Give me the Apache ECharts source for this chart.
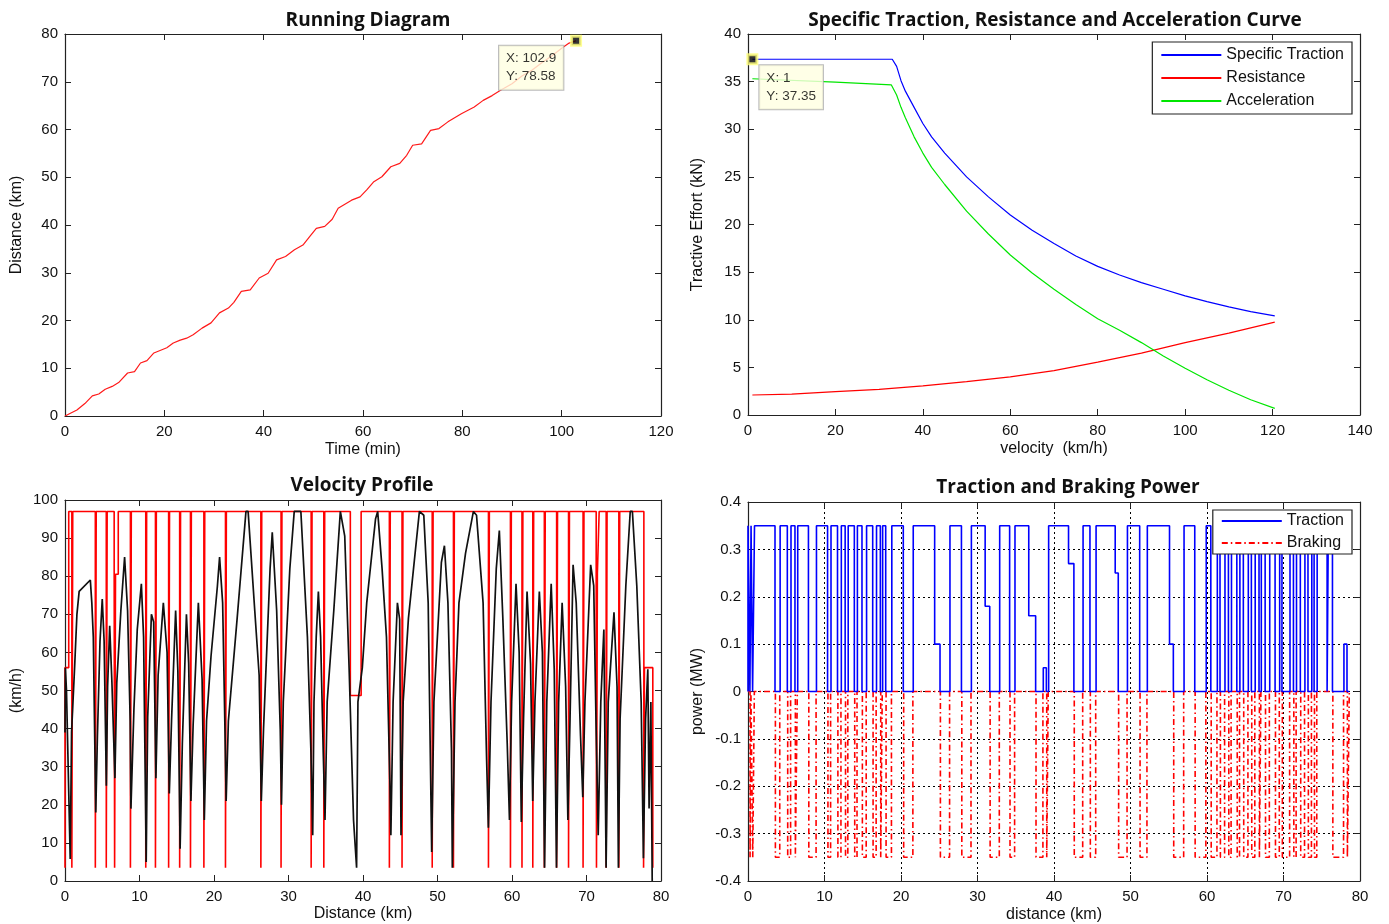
<!DOCTYPE html>
<html><head><meta charset="utf-8">
<script src="https://cdn.jsdelivr.net/npm/echarts@6/dist/echarts.min.js"></script>
<style>html,body{margin:0;padding:0;background:#fff}#c{width:1389px;height:924px}</style>
</head><body><div id="c"></div><script>
// ---------- data ----------
const runningDiagram = [[0,0],[2.4,1.25],[4,2.6],[5.5,4.2],[6.8,4.6],[8.1,5.6],[9.5,6.2],[10.8,7.0],[12.6,9.0],[14,9.3],[15.2,11.1],[16.5,11.6],[17.9,13.2],[20.5,14.3],[21.8,15.3],[23.2,15.9],[24.5,16.3],[25.8,17.0],[27.6,18.4],[29.4,19.5],[31.1,21.6],[32.9,22.6],[34,23.8],[35.5,26.1],[37.3,26.4],[39.1,28.9],[40.9,29.9],[42.6,32.7],[44.4,33.4],[46.2,34.8],[47.9,35.8],[49.3,37.6],[50.6,39.3],[52.3,39.7],[53.8,41.2],[55,43.5],[57.7,45.2],[59.4,45.9],[60.8,47.4],[62.1,49],[63.8,50.1],[65.6,52.2],[67.4,52.9],[68.8,54.6],[70,56.7],[71.8,57],[73.6,59.8],[75.3,60.2],[77.1,61.6],[79.8,63.3],[82.4,64.7],[84.2,66.1],[86,67.1],[87.7,68.2],[90,69.6],[92,71.2],[94,72.4],[96,74],[98,75.4],[100,77],[101.5,78.1],[102.9,78.58]];
const runTip = [102.9, 78.58];

const specificTraction = [[1,37.35],[33,37.35],[34,36.6],[35,35.1],[36,34.0],[38,32.3],[40,30.6],[42,29.2],[45,27.5],[50,25.0],[55,22.9],[60,21.0],[65,19.4],[70,18.0],[75,16.7],[80,15.6],[85,14.7],[90,13.9],[95,13.2],[100,12.5],[105,11.9],[110,11.35],[115,10.85],[120.5,10.4]];
const resistance = [[1,2.1],[10,2.2],[20,2.45],[30,2.7],[40,3.05],[50,3.5],[60,4.0],[70,4.65],[80,5.55],[90,6.5],[100,7.6],[110,8.6],[120.5,9.75]];
const acceleration = [[1,35.3],[20,34.95],[32.8,34.65],[34,33.6],[35,32.3],[36,31.2],[38,29.2],[40,27.5],[42,26.0],[45,24.2],[50,21.4],[55,19.0],[60,16.8],[65,14.9],[70,13.2],[75,11.6],[80,10.1],[85,8.9],[90,7.6],[95,6.2],[100,4.9],[105,3.7],[110,2.6],[115,1.6],[120.5,0.7]];
const tractionTip = [1, 37.35];

const velocityProfile = [[0,39],[0.05,56],[0.2,50],[0.7,5.8],[0.88,39],[1.3,56.5],[1.6,70],[1.9,76],[3.4,79],[3.6,73],[3.8,64],[4.13,18],[4.35,38],[4.7,63],[5.0,74],[5.25,63],[5.55,25],[5.72,51],[6.0,67],[6.3,52],[6.7,27],[6.95,52],[7.5,71],[8.0,85],[8.4,71],[8.75,42],[8.85,19],[9.25,45],[9.7,66],[10.25,78],[10.55,64],[10.9,5],[11.1,43],[11.6,70],[11.9,68],[12.2,27],[12.5,54],[13.2,73],[13.7,60],[14.0,23],[14.3,42],[14.85,71],[15.15,55],[15.45,8.5],[15.75,36],[16.3,70],[16.6,57],[16.9,21],[17.2,41],[17.9,73],[18.4,53],[18.7,16],[19.0,42],[19.6,59],[20.46,77.5],[20.75,85],[21.16,73],[21.46,41],[21.63,21],[21.93,42],[23.11,69],[24.29,97],[24.58,97],[25.47,71],[26.06,54],[26.35,21],[26.65,40],[27.53,82],[27.82,91.5],[28.41,71],[28.89,40],[29.06,20],[29.3,47],[30.18,82],[30.77,97],[31.66,97],[32.54,64],[33.01,34],[33.25,12],[33.42,47],[33.72,64],[34.01,76],[34.31,64],[34.66,34],[34.9,16],[35.19,47],[36.08,71],[36.96,97],[37.55,90.5],[38.14,55.6],[38.73,16],[39.14,3.5],[39.32,47],[39.91,56],[40.5,73],[41.68,95],[41.97,97],[42.56,82],[43.15,64],[43.62,25],[43.74,12],[44.04,47],[44.62,73],[44.92,68.7],[45.1,12],[45.39,47],[46.1,69],[47.57,97],[48.16,96],[48.75,73],[49.22,7.6],[49.52,47],[50.52,83.6],[50.93,88],[51.4,73],[51.88,34],[51.99,3.5],[52.35,47],[52.88,73],[53.76,86],[54.82,97],[55.24,96],[56.12,73],[56.59,32],[56.83,14],[57.18,47],[57.89,82],[58.3,92],[58.77,69],[59.36,36],[59.66,16],[59.95,47],[60.54,78],[60.96,60],[61.25,15.5],[61.55,42.5],[62.02,76],[62.49,57],[62.78,21],[63.08,47],[63.67,76],[64.08,60],[64.37,3.5],[64.67,47],[65.26,78],[65.67,55.6],[65.97,3.5],[66.26,47],[66.73,73],[67.2,51],[67.5,16],[67.79,42.5],[68.2,83],[68.62,73],[69.2,38],[69.5,22],[69.79,47],[70.56,83],[70.97,77.5],[71.27,42.5],[71.57,12],[71.92,47],[72.33,66],[72.63,3.5],[72.92,47],[73.69,70.5],[74.1,51],[74.28,3.5],[74.51,42.5],[75.28,77.5],[75.87,97],[76.16,97],[76.75,77.5],[77.34,47],[77.64,6],[77.93,42.5],[78.23,55.6],[78.4,19],[78.64,47],[78.82,0]];
// speed limit: [from km, to km, km/h], plus stop notches (km) where the limit drops to notchFloor
const limitSegments = [[0,0.5,56],[0.5,6.6,97],[6.6,7.15,80.5],[7.15,38.3,97],[38.3,39.75,48.7],[39.75,71.3,97],[71.3,71.7,80.7],[71.7,77.7,97],[77.7,78.9,56]];
const limitNotches = [0.98,4.13,5.6,6.72,8.84,10.9,12.2,13.97,15.45,16.9,18.7,21.6,26.35,29.06,33.1,34.8,43.6,45.3,49.35,52.2,56.9,59.85,61.4,62.85,64.4,66.05,67.65,69.6,71.4,72.7,74.4,77.72];
const notchFloor = 3.5;

// traction power intervals: [from km, to km, MW]
const tractionIntervals = [[0,0.25,0.35],[0.4,0.6,0.35],[0.85,3.53,0.35],[4.2,5.14,0.35],[5.62,6.14,0.35],[6.5,7.9,0.35],[8.95,10.4,0.35],[10.85,11.7,0.35],[12.2,12.7,0.35],[13.1,13.9,0.35],[14.3,14.9,0.35],[15.5,16.3,0.35],[16.8,17.3,0.35],[17.6,18.0,0.35],[18.8,20.3,0.35],[21.6,24.4,0.35],[24.4,25.1,0.1],[26.4,27.9,0.35],[29.2,31.0,0.35],[31.0,31.6,0.18],[32.9,34.2,0.35],[34.9,36.7,0.35],[36.7,37.6,0.16],[38.6,39.0,0.05],[39.3,41.9,0.35],[41.9,42.6,0.27],[43.8,44.7,0.35],[45.5,48.0,0.35],[48.0,48.4,0.25],[49.6,51.2,0.35],[52.2,55.1,0.35],[55.1,55.6,0.1],[57.0,58.4,0.35],[59.9,60.5,0.35],[61.35,61.7,0.35],[62.35,62.8,0.35],[63.2,63.9,0.35],[64.3,64.75,0.35],[65.4,65.8,0.35],[66.3,66.8,0.35],[67.1,67.6,0.35],[68.2,68.9,0.35],[69.5,69.8,0.35],[70.85,71.3,0.35],[71.7,72.2,0.35],[72.8,73.2,0.35],[73.7,74.0,0.35],[74.4,75.7,0.35],[75.86,76.4,0.35],[77.9,78.3,0.1]];
// braking power intervals: [from km, to km]
const brakingIntervals = [[0.27,0.38],[0.62,0.83],[3.58,4.15],[5.19,5.57],[6.19,6.45],[7.95,8.9],[10.45,10.8],[11.75,12.15],[12.75,13.05],[13.95,14.25],[14.95,15.45],[16.35,16.75],[17.35,17.55],[18.05,18.75],[20.35,21.55],[25.15,26.35],[27.95,29.15],[31.65,32.85],[34.25,34.85],[37.65,38.55],[39.05,39.25],[42.65,43.75],[44.75,45.45],[48.45,49.55],[51.25,52.15],[55.65,56.95],[58.45,59.85],[60.55,61.3],[61.75,62.3],[62.85,63.15],[63.95,64.25],[64.8,65.35],[65.85,66.25],[66.85,67.05],[67.65,68.15],[68.95,69.45],[69.85,70.8],[71.35,71.65],[72.25,72.75],[73.25,73.65],[74.05,74.35],[76.45,77.85],[78.35,78.6]];
const brakingLevel = -0.35;
const powerEnd = 78.6;

// ---------- build step paths ----------
function buildLimit(){
  const pts=[[0,notchFloor]], w=0.06;
  limitSegments.forEach(([a,b,v])=>{
    pts.push([a,v]);
    limitNotches.filter(n=>n>a&&n<b).forEach(n=>pts.push([n-w,v],[n-w,notchFloor],[n+w,notchFloor],[n+w,v]));
    pts.push([b,v]);
  });
  pts.push([limitSegments[limitSegments.length-1][1],notchFloor]);
  return pts;
}
function buildTraction(){
  const pts=[[0,0]];
  tractionIntervals.forEach(([a,b,l],i)=>{
    const prev=tractionIntervals[i-1];
    if(!prev||prev[1]!==a){ if(prev) pts.push([prev[1],0]); pts.push([a,0]); }
    pts.push([a,l],[b,l]);
  });
  pts.push([tractionIntervals[tractionIntervals.length-1][1],0],[powerEnd,0]);
  return pts;
}
function buildBraking(){
  const pts=[[0,0]];
  brakingIntervals.forEach(([a,b])=>pts.push([a,0],[a,brakingLevel],[b,brakingLevel],[b,0]));
  pts.push([powerEnd,0]);
  return pts;
}

// ---------- axes ----------
const FONT='Liberation Sans, Arial, sans-serif';
const tickFont={fontFamily:FONT,fontSize:15,color:'#111'};
const nameFont={fontFamily:FONT,fontSize:16,color:'#111'};
function axisPair(dim,g,min,max,interval,name,gap,grid){
  const base={type:'value',gridIndex:g,min,max,interval,
    axisLine:{show:true,onZero:false,lineStyle:{color:'#222',width:1.2}},
    axisTick:{show:true,inside:true,length:6,lineStyle:{color:'#222'}},
    splitLine:{show:false}};
  const main=Object.assign({},base,{
    position: dim==='x'?'bottom':'left',
    name, nameLocation:'middle', nameGap:gap, nameTextStyle:nameFont,
    axisLabel:Object.assign({margin:dim==='x'?8:7},tickFont),
    splitLine: grid?{show:true,lineStyle:{color:'#000',width:1,type:[2,3]}}:{show:false}
  });
  const twin=Object.assign({},base,{position: dim==='x'?'top':'right',axisLabel:{show:false}});
  return [main,twin];
}
const xAxis=[].concat(
  axisPair('x',0,0,120,20,'Time (min)',26,false),
  axisPair('x',1,0,140,20,'velocity  (km/h)',26,false),
  axisPair('x',2,0,80,10,'Distance (km)',25,false),
  axisPair('x',3,0,80,10,'distance (km)',26,true)
);
const yAxis=[].concat(
  axisPair('y',0,0,80,10,'Distance (km)',40,false),
  axisPair('y',1,0,40,5,'Tractive Effort (kN)',42,false),
  axisPair('y',2,0,100,10,'(km/h)',40,false),
  axisPair('y',3,-0.4,0.4,0.1,'power (MW)',42,true)
);

function tip(xi,point,offset){
  return {type:'scatter',xAxisIndex:xi,yAxisIndex:xi,data:[point],symbol:'rect',symbolSize:9,z:10,silent:true,
    itemStyle:{color:'#000',borderColor:'#ffff7a',borderWidth:3},
    label:{show:true,position:'inside',offset,formatter:()=>'X: '+point[0]+'\nY: '+point[1],
      backgroundColor:'#ffffe1',borderColor:'#a8a8a8',borderWidth:1,padding:[4,7],
      color:'#000',fontFamily:FONT,fontSize:13.5,lineHeight:18,align:'left',verticalAlign:'top'}};
}
const tFont={fontFamily:'Open Sans, Liberation Sans, sans-serif',fontSize:19,fontWeight:'bold',color:'#111'};
const line=(name,xi,data,color,width,extra)=>Object.assign({type:'line',name,xAxisIndex:xi,yAxisIndex:xi,data,
  symbol:'none',showSymbol:false,silent:true,lineStyle:{color,width},itemStyle:{color}},extra||{});
const legendBase={orient:'vertical',right:37,itemWidth:60,itemHeight:14,borderColor:'#222',borderWidth:1.2,
  backgroundColor:'#fff',itemStyle:{opacity:0},textStyle:{fontFamily:FONT,fontSize:16,color:'#111'}};

const option={
  animation:false,backgroundColor:'#fff',
  title:[
    {text:'Running Diagram',left:363,top:6,textAlign:'center',textStyle:tFont},
    {text:'Specific Traction, Resistance and Acceleration Curve',left:1050,top:6,textAlign:'center',textStyle:tFont},
    {text:'Velocity Profile',left:357,top:471,textAlign:'center',textStyle:tFont},
    {text:'Traction and Braking Power',left:1063,top:473,textAlign:'center',textStyle:tFont}
  ],
  grid:[
    {left:65,top:34,width:596,height:382},
    {left:748,top:34,width:612,height:381},
    {left:65,top:500,width:596,height:381},
    {left:748,top:502,width:612,height:380}
  ],
  legend:[
    Object.assign({},legendBase,{data:['Specific Traction','Resistance','Acceleration'],top:42,itemGap:7,padding:[5,8,5,8]}),
    Object.assign({},legendBase,{data:['Traction','Braking'],top:510,itemGap:6,padding:[3,8,3,8]})
  ],
  xAxis,yAxis,
  series:[
    line('Running',0,runningDiagram,'#ff1a1a',1.2),
    tip(0,runTip,[-77,5]),
    line('Specific Traction',2,specificTraction,'#0000ff',1.2),
    line('Resistance',2,resistance,'#ff0000',1.2),
    line('Acceleration',2,acceleration,'#00e600',1.2),
    tip(2,tractionTip,[7,6]),
    line('Limit',4,buildLimit(),'#ff0000',1.6),
    line('Velocity',4,velocityProfile,'#111',1.7),
    line('Braking',6,buildBraking(),'#ff0000',1.6,{lineStyle:{color:'#ff0000',width:1.6,type:[6,3,1.5,3]}}),
    line('Traction',6,buildTraction(),'#0000ff',1.6)
  ]
};
const chart=echarts.init(document.getElementById('c'),null,{renderer:'canvas'});
chart.setOption(option);
</script></body></html>
